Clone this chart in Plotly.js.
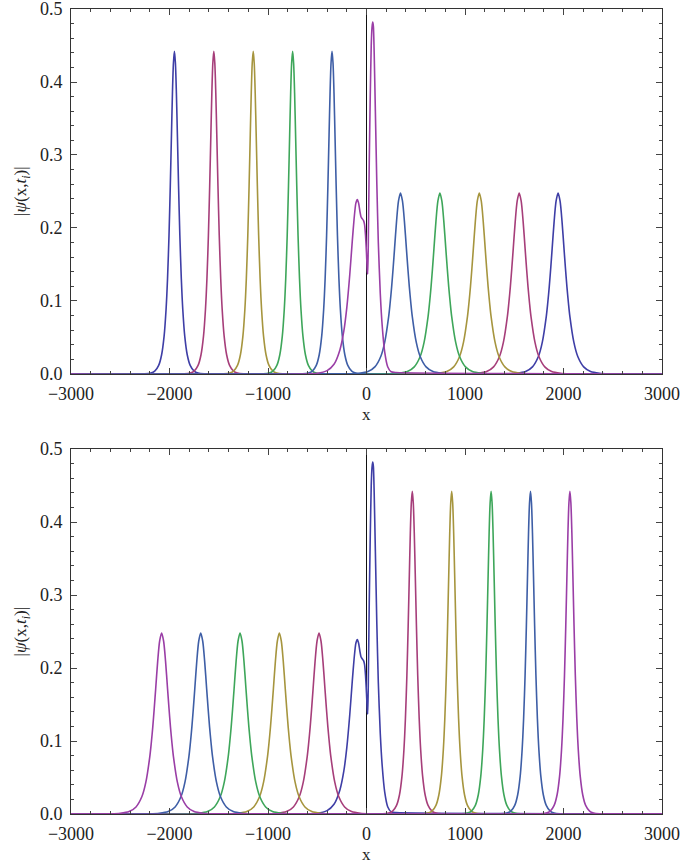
<!DOCTYPE html>
<html>
<head>
<meta charset="utf-8">
<script src="https://cdn.plot.ly/plotly-3.0.1.min.js"></script>
<style>html,body{margin:0;padding:0;background:#fff}#chart{width:681px;height:865px}</style>
</head>
<body>
<div id="chart"></div>
<script>
// ---- data ----
// profile of a narrow (tall) soliton: offsets from its centre and |psi| values
var tallOffsets = [-300,-240,-200,-160,-130,-105,-85,-70,-55,-42,-30,-20,-10,0,10,20,30,42,55,70,85,105,130,160,200,240,300];
var tallValues  = [0.0003,0.0013,0.0039,0.0118,0.0264,0.0515,0.088,0.1305,0.190,0.2576,0.328,0.385,0.426,0.442,0.426,0.385,0.328,0.2576,0.190,0.1305,0.088,0.0515,0.0264,0.0118,0.0039,0.0013,0.0003];
// profile of a wide (short) soliton
var wideOffsets = [-520,-420,-330,-260,-200,-160,-120,-105,-90,-75,-60,-40,-20,0,20,40,60,75,90,105,120,160,200,260,330,420,520];
var wideValues  = [0.0002,0.0009,0.0033,0.0097,0.0239,0.0436,0.0785,0.0972,0.119,0.1445,0.172,0.209,0.237,0.248,0.237,0.209,0.172,0.1445,0.119,0.0972,0.0785,0.0436,0.0239,0.0097,0.0033,0.0009,0.0002];
// the profile during the interaction near x = 0
var centerX = [-500,-400,-330,-270,-230,-200,-170,-145,-125,-108,-93,-80,-66,-55,-45,-30,-20,-10,0,8,13,20,28,38,48,56,63,70,78,90,105,120,140,160,185,215,250,300];
var centerY = [0.001,0.0046,0.0133,0.033,0.059,0.091,0.136,0.181,0.214,0.234,0.239,0.234,0.222,0.215,0.213,0.210,0.205,0.19,0.165,0.142,0.137,0.20,0.29,0.38,0.45,0.475,0.482,0.476,0.44,0.36,0.26,0.18,0.11,0.065,0.03,0.01,0.003,0.002];

var xMin = -3000, xMax = 3000;
var xTickVals = [-3000,-2000,-1000,0,1000,2000,3000];
var yTickVals = [0,0.1,0.2,0.3,0.4,0.5];
var yTickText = ['0.0','0.1','0.2','0.3','0.4','0.5'];

var colorNames = ['c1','c2','c3','c4','c5','c6'];
var colors = ['#3e3ea6','#a63e7a','#a6953e','#3ea65a','#3e5ea6','#9a3ea6'];

// top panel
var topTallCenters = [-1950,-1550,-1150,-750,-350];   // colours c1..c5
var topTallColors  = ['c1','c2','c3','c4','c5'];
var topWideCenters = [1945,1550,1145,745,345];         // colours c1..c5
var topWideColors  = ['c1','c2','c3','c4','c5'];
var topCenterColor = 'c6';
// bottom panel
var botWideCenters = [-482,-885,-1284,-1683,-2080];    // colours c2..c6
var botWideColors  = ['c2','c3','c4','c5','c6'];
var botTallCenters = [465,865,1265,1665,2065];         // colours c2..c6
var botTallColors  = ['c2','c3','c4','c5','c6'];
var botCenterColor = 'c1';

function col(name){ return colors[colorNames.indexOf(name)]; }

function peakTrace(center, offs, vals, color, xa, ya){
  var xs = [xMin], ys = [0];
  for (var i=0;i<offs.length;i++){ xs.push(center+offs[i]); ys.push(vals[i]); }
  xs.push(xMax); ys.push(0);
  return {x:xs, y:ys, xaxis:xa, yaxis:ya, type:'scatter', mode:'lines',
          line:{color:color, width:1.6, shape:'spline', smoothing:0.8},
          hoverinfo:'skip', showlegend:false};
}
function centerTrace(color, xa, ya){
  var xs=[xMin].concat(centerX).concat([xMax]);
  var ys=[0].concat(centerY).concat([0]);
  return {x:xs, y:ys, xaxis:xa, yaxis:ya, type:'scatter', mode:'lines',
          line:{color:color, width:1.6, shape:'spline', smoothing:0.6},
          hoverinfo:'skip', showlegend:false};
}

var traces = [];
for (var k=0;k<5;k++){
  traces.push(peakTrace(topTallCenters[k], tallOffsets, tallValues, col(topTallColors[k]), 'x', 'y'));
  traces.push(peakTrace(topWideCenters[k], wideOffsets, wideValues, col(topWideColors[k]), 'x', 'y'));
}
traces.push(centerTrace(col(topCenterColor), 'x', 'y'));
traces.push(centerTrace(col(botCenterColor), 'x2', 'y2'));
for (var k=0;k<5;k++){
  traces.push(peakTrace(botWideCenters[k], wideOffsets, wideValues, col(botWideColors[k]), 'x2', 'y2'));
  traces.push(peakTrace(botTallCenters[k], tallOffsets, tallValues, col(botTallColors[k]), 'x2', 'y2'));
}

var serif = 'Liberation Serif';
var tickFont = {family:serif, size:18, color:'#222'};
function xAxis(anchor){
  return {anchor:anchor, domain:[0,1], range:[xMin,xMax], tickmode:'array', tickvals:xTickVals,
    ticks:'inside', ticklen:6, tickwidth:1, tickcolor:'#444',
    minor:{dtick:200, tick0:-3000, ticks:'inside', ticklen:3, tickwidth:1, tickcolor:'#444'},
    mirror:'allticks', showline:true, linecolor:'#333', linewidth:1,
    zeroline:true, zerolinecolor:'#111', zerolinewidth:1, ticklabeloverflow:'allow',
    showgrid:false, tickfont:tickFont, ticklabelstandoff:3, fixedrange:true};
}
function yAxis(anchor, domain){
  return {anchor:anchor, domain:domain, range:[0,0.5], tickmode:'array', tickvals:yTickVals, ticktext:yTickText,
    ticks:'inside', ticklen:6, tickwidth:1, tickcolor:'#444',
    minor:{dtick:0.02, tick0:0, ticks:'inside', ticklen:3, tickwidth:1, tickcolor:'#444'},
    mirror:'allticks', showline:true, linecolor:'#333', linewidth:1, ticklabeloverflow:'allow',
    zeroline:false, showgrid:false, tickfont:tickFont, ticklabelstandoff:4, fixedrange:true};
}

var titleFont = {family:serif, size:17, color:'#222'};
var yTitle = '|<i>ψ</i>(x,<i>t</i><sub><i>i</i></sub>)|';
var layout = {
  width:681, height:865,
  margin:{l:71, r:19, t:9, b:51},
  paper_bgcolor:'#fff', plot_bgcolor:'#fff',
  showlegend:false,
  xaxis: xAxis('y'),
  yaxis: yAxis('x', [0.5466,1]),
  xaxis2: xAxis('y2'),
  yaxis2: yAxis('x2', [0,0.4534]),
  annotations:[
    {text:yTitle, textangle:-90, xref:'paper', yref:'paper', x:-0.083, y:0.774, xanchor:'center', yanchor:'middle', showarrow:false, font:titleFont},
    {text:yTitle, textangle:-90, xref:'paper', yref:'paper', x:-0.083, y:0.2267, xanchor:'center', yanchor:'middle', showarrow:false, font:titleFont},
    {text:'x', xref:'paper', yref:'paper', x:0.5, y:0.4957, xanchor:'center', yanchor:'middle', showarrow:false, font:titleFont},
    {text:'x', xref:'paper', yref:'paper', x:0.5, y:-0.0509, xanchor:'center', yanchor:'middle', showarrow:false, font:titleFont}
  ]
};

Plotly.newPlot('chart', traces, layout, {displayModeBar:false, staticPlot:true});
</script>
</body>
</html>
